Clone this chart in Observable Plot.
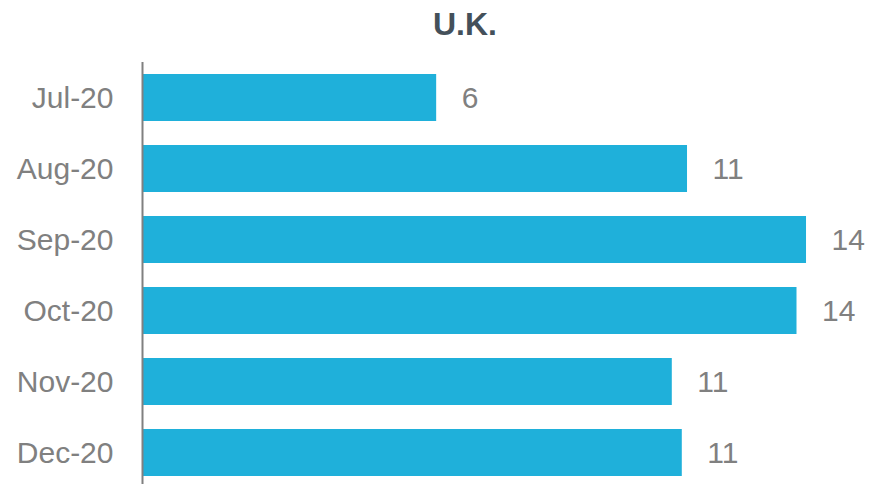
<!DOCTYPE html>
<html>
<head>
<meta charset="utf-8">
<script src="https://cdn.jsdelivr.net/npm/d3@7"></script>
<script src="https://cdn.jsdelivr.net/npm/@observablehq/plot@0.6"></script>
<style>
  html, body { margin: 0; padding: 0; background: #fff; overflow: hidden; }
  #title { height: 62px; box-sizing: border-box; padding-top: 8px; padding-left: 61px; text-align: center;
    font-family: "Liberation Sans", Arial, sans-serif; font-weight: bold; font-size: 32px; line-height: 32px; color: #44505a; }
  #chart svg { display: block; }
</style>
</head>
<body>
<div id="title">U.K.</div>
<div id="chart"></div>
<script>
const months = ["Jul-20", "Aug-20", "Sep-20", "Oct-20", "Nov-20", "Dec-20"];
const values = [6.18, 11.45, 13.95, 13.75, 11.13, 11.34];
const data = months.map((m, i) => ({month: m, value: values[i]}));

const chart = Plot.plot({
  width: 869,
  height: 426,
  marginLeft: 142,
  marginRight: 13,
  marginTop: 0,
  marginBottom: 0,
  style: {fontFamily: "'Liberation Sans', Arial, sans-serif", background: "#fff"},
  x: {domain: [0, 15], axis: null},
  y: {domain: months, paddingInner: 0.338, paddingOuter: 0.169, label: null},
  marks: [
    Plot.barX(data, {y: "month", x: "value", fill: "#1fb0da"}),
    Plot.text(data, {y: "month", x: "value", text: d => Math.round(d.value).toString(),
      dx: 25, textAnchor: "start", fontSize: 30, fill: "#808080"}),
    Plot.axisY({tickSize: 0, tickPadding: 29, fontSize: 30, color: "#808080", label: null}),
    Plot.ruleX([0], {stroke: "#808080", strokeWidth: 2})
  ]
});
document.getElementById("chart").appendChild(chart);
</script>
</body>
</html>
